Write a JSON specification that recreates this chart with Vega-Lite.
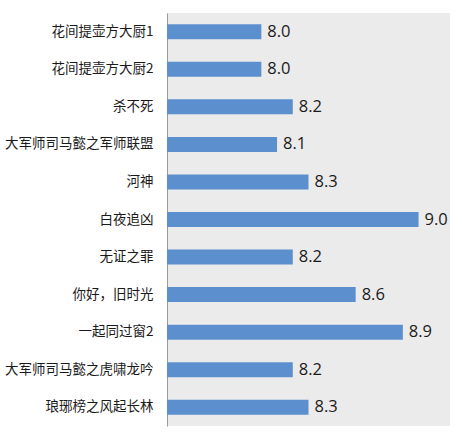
{
  "$schema": "https://vega.github.io/schema/vega-lite/v6.json",
  "autosize": {"type": "none"},
  "padding": {"left": 167, "top": 13, "right": 12, "bottom": 12},
  "width": 283,
  "height": 413,
  "background": "white",
  "data": {
    "values": [
      {"name": "花间提壶方大厨1", "score": 8.0},
      {"name": "花间提壶方大厨2", "score": 8.0},
      {"name": "杀不死", "score": 8.2},
      {"name": "大军师司马懿之军师联盟", "score": 8.1},
      {"name": "河神", "score": 8.3},
      {"name": "白夜追凶", "score": 9.0},
      {"name": "无证之罪", "score": 8.2},
      {"name": "你好，旧时光", "score": 8.6},
      {"name": "一起同过窗2", "score": 8.9},
      {"name": "大军师司马懿之虎啸龙吟", "score": 8.2},
      {"name": "琅琊榜之风起长林", "score": 8.3}
    ]
  },
  "encoding": {
    "y": {
      "field": "name",
      "type": "nominal",
      "sort": null,
      "title": null,
      "scale": {"paddingInner": 0.6, "paddingOuter": 0.3},
      "axis": {
        "ticks": false,
        "domainColor": "#9a9a9a",
        "labelPadding": 14,
        "labelFont": "Noto Sans CJK SC",
        "labelFontSize": 13.5,
        "labelColor": "#1a1a1a",
        "labelLimit": 170
      }
    },
    "x": {
      "field": "score",
      "type": "quantitative",
      "scale": {"domain": [7.4, 9.2], "zero": false, "nice": false},
      "axis": null
    }
  },
  "layer": [
    {
      "mark": {"type": "bar", "color": "#5b8fcd", "clip": true},
      "encoding": {"x2": {"datum": 7.4}}
    },
    {
      "mark": {
        "type": "text",
        "align": "left",
        "dx": 6,
        "font": "Open Sans",
        "fontSize": 16.5,
        "color": "#1a1a1a"
      },
      "encoding": {"text": {"field": "score", "type": "quantitative", "format": ".1f"}}
    }
  ],
  "config": {
    "view": {"fill": "#ebebeb", "stroke": null}
  }
}
